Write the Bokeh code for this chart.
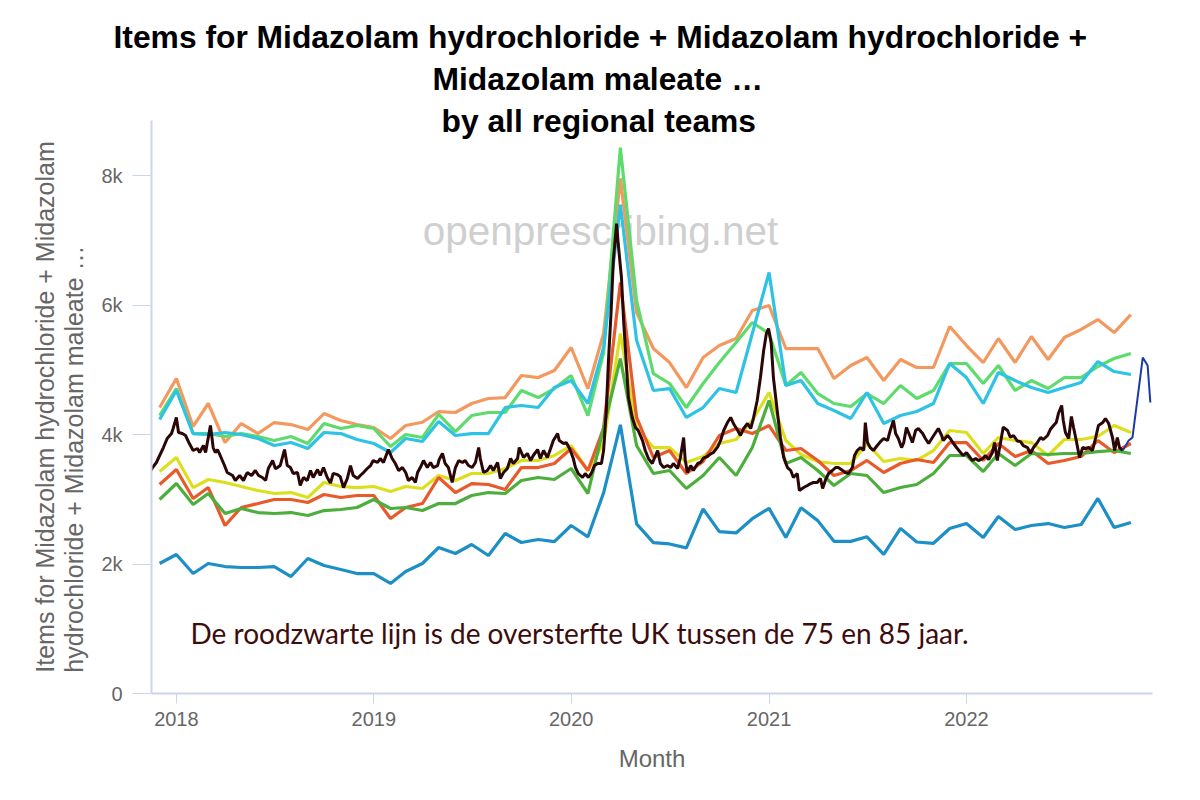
import pandas as pd
from bokeh.plotting import figure
from bokeh.models import Label, Title, FixedTicker, DatetimeTickFormatter, Range1d, NumeralTickFormatter
from bokeh.embed import file_html
from bokeh.resources import INLINE

# ---------------- data ----------------
month_start = "2017-12-01"
n_months = 60

orange = [4417, 4865, 4124, 4479, 3876, 4170, 4015, 4185, 4154, 4077, 4324, 4216,
          4154, 4108, 3938, 4139, 4190, 4355, 4340, 4479, 4556, 4571, 4911, 4880,
          4988, 5344, 4710, 5560, 7954, 5884, 5328, 5112, 4726, 5189, 5374, 5483,
          5915, 5992, 5328, 5328, 5328, 4865, 5066, 5189, 4834, 5158, 5035, 5035,
          5668, 5374, 5112, 5483, 5112, 5514, 5158, 5498, 5622, 5776, 5575, 5853]
light_green = [4293, 4710, 4015, 4015, 3969, 4015, 3969, 3907, 3969, 3861, 4170, 4093,
               4139, 4093, 3815, 4000, 3954, 4310, 4046, 4293, 4340, 4340, 4680, 4571,
               4710, 4911, 4293, 5266, 8432, 6069, 4942, 4788, 4417, 4788, 5112, 5421,
               5730, 5560, 4757, 4958, 4633, 4479, 4432, 4633, 4479, 4757, 4556, 4680,
               5097, 5097, 4788, 5066, 4680, 4834, 4710, 4880, 4880, 5050, 5174, 5251]
cyan = [4232, 4680, 4015, 4000, 4031, 4000, 3938, 3830, 3876, 3784, 4031, 4015,
        3923, 3861, 3722, 3938, 3892, 4201, 3985, 4015, 4015, 4417, 4448, 4417,
        4726, 4834, 4479, 5344, 7550, 5452, 4680, 4710, 4263, 4417, 4710, 4649,
        5560, 6502, 4757, 4834, 4479, 4371, 4247, 4649, 4170, 4293, 4355, 4479,
        5097, 4880, 4479, 4958, 4834, 4726, 4649, 4726, 4803, 5127, 4973, 4927]
yellow = [3429, 3645, 3181, 3305, 3259, 3197, 3135, 3089, 3104, 3027, 3259, 3197,
          3181, 3197, 3120, 3197, 3166, 3367, 3290, 3398, 3398, 3475, 3599, 3599,
          3676, 3830, 3444, 3861, 5560, 4108, 3799, 3799, 3568, 3660, 3861, 3923,
          4216, 4649, 3907, 3691, 3583, 3552, 3552, 3861, 3583, 3629, 3599, 3753,
          4062, 4031, 3707, 3954, 3907, 3876, 3676, 3923, 3923, 3969, 4139, 4031]
red = [3228, 3459, 3012, 3181, 2595, 2873, 2934, 2996, 2996, 2950, 3073, 3027,
       3058, 3058, 2703, 2873, 2934, 3336, 3104, 3243, 3228, 3151, 3490, 3490,
       3552, 3784, 3444, 4100, 6350, 4263, 3645, 3753, 3398, 3583, 3985, 4093,
       4015, 4139, 3753, 3784, 3599, 3367, 3444, 3599, 3413, 3552, 3614, 3568,
       3876, 3876, 3599, 3861, 3660, 3753, 3552, 3599, 3660, 3907, 3722, 3861]
green = [2996, 3243, 2919, 3089, 2780, 2857, 2795, 2780, 2795, 2749, 2826, 2842,
         2873, 2996, 2857, 2873, 2826, 2934, 2934, 3058, 3104, 3089, 3290, 3336,
         3305, 3475, 3089, 4108, 5174, 3830, 3398, 3444, 3166, 3367, 3645, 3367,
         3799, 4525, 3552, 3645, 3444, 3212, 3398, 3367, 3104, 3181, 3228, 3398,
         3676, 3676, 3429, 3707, 3521, 3707, 3691, 3707, 3707, 3737, 3753, 3707]
blue = [2008, 2147, 1853, 2008, 1961, 1946, 1946, 1961, 1807, 2085, 1977, 1915,
        1853, 1853, 1699, 1884, 2008, 2255, 2162, 2301, 2131, 2471, 2332, 2378,
        2347, 2595, 2420, 3100, 4150, 2620, 2330, 2310, 2250, 2850, 2500, 2480,
        2700, 2860, 2410, 2870, 2670, 2350, 2350, 2420, 2150, 2550, 2340, 2320,
        2548, 2625, 2409, 2734, 2533, 2595, 2625, 2564, 2610, 3012, 2564, 2641]

# overlay: excess-deaths line (days after 2018-01-01, value on the same axis)
excess_origin = "2018-01-01"
excess_day = [-54, -44, -37, -24, -17, -9, -6, 0, 4, 11, 17, 24, 31, 39, 43, 50, 54, 59, 63, 68,
              72, 76, 81, 89, 94, 104, 109, 117, 124, 131, 139, 146, 152, 159, 165, 170, 178, 183,
              187, 192, 200, 205, 211, 216, 224, 229, 235, 242, 248, 253, 261, 266, 272, 279, 285,
              290, 298, 303, 309, 316, 322, 327, 335, 340, 346, 353, 359, 364, 372, 377, 383, 392,
              399, 405, 411, 418, 424, 429, 436, 442, 446, 451, 457, 464, 470, 475, 483, 486, 492,
              497, 503, 510, 516, 522, 529, 534, 540, 547, 553, 559, 562, 568, 575, 581, 586, 594,
              599, 605, 612, 618, 623, 631, 634, 642, 649, 655, 660, 668, 673, 679, 686, 692, 697,
              705, 708, 716, 721, 727, 734, 738, 743, 751, 756, 762, 768, 773, 779, 786, 790, 795,
              799, 804, 808, 814, 817, 823, 827, 832, 836, 843, 849, 854, 862, 867, 873, 880, 886,
              890, 895, 901, 908, 914, 919, 927, 932, 938, 941, 945, 951, 956, 964, 969, 975, 982,
              988, 993, 1001, 1006, 1012, 1019, 1025, 1030, 1038, 1043, 1049, 1056, 1062, 1067,
              1074, 1080, 1086, 1091, 1095, 1100, 1104, 1111, 1117, 1123, 1130, 1136, 1141, 1148,
              1152, 1160, 1167, 1173, 1178, 1185, 1191, 1195, 1200, 1206, 1213, 1219, 1224, 1232,
              1237, 1243, 1250, 1254, 1259, 1265, 1271, 1274, 1278, 1283, 1289, 1296, 1302, 1308,
              1315, 1320, 1326, 1330, 1335, 1341, 1345, 1350, 1356, 1361, 1367, 1372, 1380, 1385,
              1391, 1398, 1404, 1409, 1415, 1418, 1426, 1431, 1437, 1444, 1450, 1455, 1461, 1465,
              1472, 1478, 1483, 1491, 1496, 1502, 1509, 1513, 1518, 1524, 1529, 1537, 1542, 1548,
              1555, 1561, 1566, 1574, 1579, 1585, 1592, 1598, 1603, 1611, 1616, 1622, 1627, 1631,
              1637, 1640, 1644, 1650, 1655, 1659, 1664, 1670, 1676, 1681, 1687, 1694, 1700, 1705,
              1713, 1718, 1724, 1731, 1735, 1740, 1744, 1750]
excess_val = [3351, 3490, 3568, 3799, 3938, 4015, 4093, 4263, 4031, 4015, 3985, 3861, 3753, 3784,
              3722, 3830, 3722, 3954, 4139, 3799, 3722, 3768, 3676, 3521, 3413, 3367, 3290, 3367,
              3290, 3413, 3367, 3444, 3367, 3336, 3290, 3475, 3598, 3475, 3490, 3521, 3768, 3521,
              3490, 3398, 3413, 3212, 3336, 3290, 3444, 3336, 3459, 3367, 3490, 3336, 3250, 3400,
              3380, 3350, 3181, 3320, 3521, 3367, 3320, 3367, 3413, 3475, 3521, 3598, 3568, 3629,
              3568, 3768, 3629, 3552, 3444, 3490, 3413, 3290, 3336, 3259, 3413, 3490, 3598, 3490,
              3568, 3490, 3521, 3614, 3707, 3552, 3490, 3259, 3490, 3598, 3568, 3598, 3521, 3490,
              3568, 3799, 3629, 3413, 3444, 3521, 3444, 3568, 3320, 3413, 3475, 3629, 3552, 3629,
              3799, 3645, 3707, 3598, 3676, 3768, 3629, 3753, 3645, 3784, 3907, 4015, 3907, 3861,
              3876, 3784, 3629, 3490, 3398, 3336, 3398, 3336, 3413, 3521, 3552, 3552, 3753, 4371,
              5143, 5915, 6687, 7259, 6950, 6425, 5761, 5097, 4571, 4263, 4108, 4062, 3907, 3753,
              3629, 3552, 3676, 3753, 3552, 3490, 3521, 3490, 3552, 3475, 3645, 3954, 3598, 3413,
              3521, 3444, 3552, 3568, 3640, 3660, 3700, 3722, 3810, 3900, 4062, 4185, 4263, 4170,
              4062, 3985, 4093, 4170, 4093, 4247, 4525, 4880, 5297, 5560, 5637, 5405, 4880, 4371,
              3954, 3645, 3490, 3444, 3336, 3398, 3135, 3181, 3212, 3243, 3259, 3259, 3320, 3166,
              3290, 3398, 3444, 3490, 3490, 3444, 3413, 3398, 3490, 3676, 3753, 3799, 3753, 4185,
              3876, 3799, 3753, 3830, 3890, 3938, 3907, 4062, 4216, 4015, 3938, 3799, 3876, 4108,
              3985, 3876, 4062, 4093, 4015, 3938, 3861, 3954, 4031, 4093, 3985, 3907, 3985, 3938,
              3861, 3784, 3722, 3676, 3722, 3676, 3598, 3629, 3598, 3629, 3676, 3614, 3722, 3876,
              3598, 3876, 4115, 4062, 3960, 3985, 3900, 3890, 3830, 3799, 3707, 3799, 3876, 3954,
              3923, 3985, 4077, 4139, 4185, 4324, 4448, 4216, 4031, 3938, 4278, 4108, 3907, 3645,
              3799, 3784, 3799, 3753, 3954, 4139, 4185, 4247, 4170, 3954, 3753, 3954, 3799, 3753]
# latest weeks of the overlay, drawn in blue
recent_day = [1750, 1761, 1768, 1787, 1796, 1801]
recent_val = [3753, 3907, 3954, 5189, 5066, 4494]

year_ticks = ["2018-01-01", "2019-01-01", "2020-01-01", "2021-01-01", "2022-01-01"]
value_ticks = [0, 2000, 4000, 6000, 8000]

title_lines = ["Items for Midazolam hydrochloride + Midazolam hydrochloride +",
               "Midazolam maleate \u2026",
               "by all regional teams"]
ylabel_lines = ["Items for Midazolam hydrochloride + Midazolam",
                "hydrochloride + Midazolam maleate \u2026"]
xlabel = "Month"
watermark = "openprescribing.net"
note = "De roodzwarte lijn is de oversterfte UK  tussen de 75 en 85 jaar."

series = [
    (orange, "#f3995f"),
    (light_green, "#5ddb6c"),
    (cyan, "#2ec2e4"),
    (yellow, "#dedf1c"),
    (red, "#e85a2a"),
    (green, "#4cae3b"),
    (blue, "#1c8fc6"),
]

# ---------------- figure ----------------
W, H = 1192, 792
months = pd.date_range(month_start, periods=n_months, freq="MS")
origin = pd.Timestamp(excess_origin)
ex_x = [origin + pd.Timedelta(days=d) for d in excess_day]
rc_x = [origin + pd.Timedelta(days=d) for d in recent_day]

p = figure(width=W, height=H, x_axis_type="datetime", output_backend="svg",
           toolbar_location=None, min_border_left=151, min_border_right=40,
           min_border_top=120, min_border_bottom=99,
           x_range=Range1d(pd.Timestamp("2017-11-16"), pd.Timestamp("2022-12-11")),
           y_range=Range1d(0, 8850))
p.outline_line_color = None
p.background_fill_color = "white"
p.border_fill_color = "white"
p.xgrid.grid_line_color = None
p.ygrid.grid_line_color = None

axis_col = "#ccd6eb"
lab_col = "#666666"
for ax in (p.xaxis[0], p.yaxis[0]):
    ax.axis_line_color = axis_col
    ax.axis_line_width = 2
    ax.major_tick_line_color = axis_col
    ax.minor_tick_line_color = None
    ax.major_tick_in = 0
    ax.major_label_text_color = lab_col
    ax.major_label_text_font = "Liberation Sans"
    ax.major_label_text_font_size = "20px"

p.xaxis.ticker = FixedTicker(ticks=[pd.Timestamp(t).value / 1e6 for t in year_ticks])
p.xaxis.formatter = DatetimeTickFormatter(years="%Y", months="%Y", days="%Y")
p.xaxis.major_tick_out = 10
p.xaxis.major_label_standoff = 8
p.xaxis.axis_label = xlabel
p.xaxis.axis_label_text_color = lab_col
p.xaxis.axis_label_text_font = "Liberation Sans"
p.xaxis.axis_label_text_font_style = "normal"
p.xaxis.axis_label_text_font_size = "24px"
p.xaxis.axis_label_standoff = 16

p.yaxis.ticker = FixedTicker(ticks=value_ticks)
p.yaxis.formatter = NumeralTickFormatter(format="0a")
p.yaxis.major_tick_out = 19
p.yaxis.major_label_standoff = 10

# title, stacked outward from the frame; each line left-placed so it is centred on the page
def make_title(txt, standoff, offset):
    return Title(text=txt, align="left", offset=offset, standoff=standoff,
                 text_font="Liberation Sans", text_font_style="bold",
                 text_font_size="31.8px", text_color="#000000")

p.add_layout(make_title(title_lines[2], -36, 290), "above")
p.add_layout(make_title(title_lines[1], 44, 281), "above")
p.add_layout(make_title(title_lines[0], -36, -38), "above")

# y-axis title, two centred lines
p.add_layout(Title(text="\n".join(ylabel_lines), align="center", standoff=20,
                   text_font="Liberation Sans", text_font_style="normal",
                   text_font_size="25px", text_color=lab_col, text_line_height=1.05), "left")

# frame-relative positions (x from frame left, y up from frame bottom)
p.add_layout(Label(x=449, y=463, x_units="screen", y_units="screen", text=watermark,
                   text_font="Liberation Sans", text_font_size="40.5px", text_color="#cfcfcf",
                   text_align="center", text_baseline="middle", level="underlay"))

for vals, col in series:
    p.line(months, vals, line_color=col, line_width=3.2)

p.line(ex_x, excess_val, line_color="#2a0606", line_width=3)
p.line(rc_x, recent_val, line_color="#1b3aa8", line_width=2)

p.add_layout(Label(x=39, y=61, x_units="screen", y_units="screen", text=note,
                   text_font="Lato", text_font_size="28px", text_color="#3d0c0c",
                   text_align="left", text_baseline="alphabetic"))

open("out.html", "w").write(file_html(p, INLINE))
